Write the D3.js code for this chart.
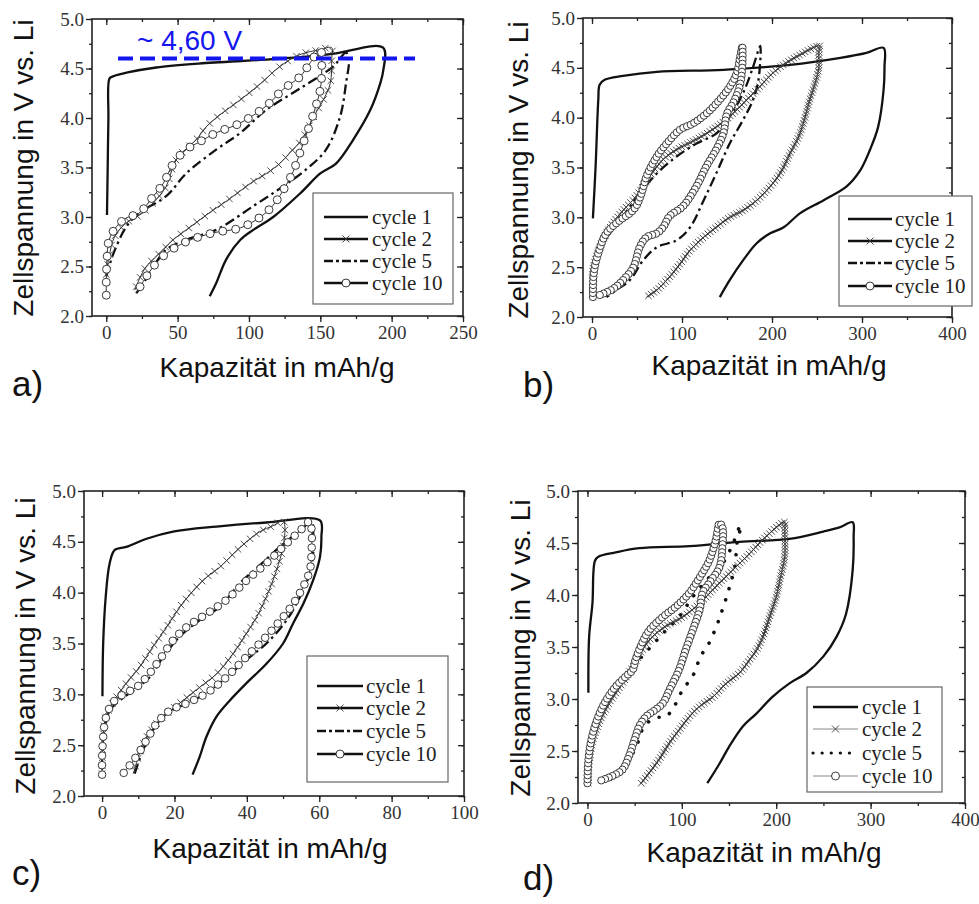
<!DOCTYPE html>
<html>
<head>
<meta charset="utf-8">
<script src="https://cdn.jsdelivr.net/npm/d3@7"></script>
<style>
  body { margin: 0; background: #fff; }
  svg { display: block; }
</style>
</head>
<body>
<script>
// ---------- data (Kapazität mAh/g, Spannung V) ----------
const legendLabels = ["cycle 1", "cycle 2", "cycle 5", "cycle 10"];
const panelLetters = ["a)", "b)", "c)", "d)"];
const yTicks = [2.0, 2.5, 3.0, 3.5, 4.0, 4.5, 5.0];
const xTicksA = [0, 50, 100, 150, 200, 250];
const xTicksB = [0, 100, 200, 300, 400];
const xTicksC = [0, 20, 40, 60, 80, 100];
const xTicksD = [0, 100, 200, 300, 400];
const markLevel = [4.6];
const markLabel = "~ 4,60 V";

const a1 = [[0.5,3.02],[1,3.5],[1.5,4.0],[2.3,4.40],[4.7,4.42],[15,4.46],[35,4.51],[65,4.55],[112,4.59],[140,4.62],[160,4.65],[194,4.71],
  [194,4.47],[192,4.35],[185,4.08],[173,3.78],[161,3.54],[150,3.44],[136,3.24],[117,3.0],[103,2.87],[94,2.77],[84,2.57],[77,2.33],[72.5,2.2]];
const a2 = [[0,2.42],[2,2.6],[5.8,2.8],[14,2.94],[23.4,3.02],[32.7,3.14],[42,3.31],[49,3.58],[63,3.78],[70,3.91],[79.5,4.03],[93.6,4.18],[107.6,4.34],[121.6,4.52],[135.7,4.64],[149.7,4.69],[158,4.71],
  [158,4.6],[157,4.35],[152,4.18],[146,4.03],[137,3.78],[128.7,3.65],[121.6,3.54],[112.3,3.44],[103,3.36],[93.6,3.26],[84.2,3.16],[74.9,3.07],[65.5,2.97],[56.1,2.87],[46.8,2.77],[39.8,2.67],[32.7,2.57],[28,2.5],[23.4,2.38],[20,2.26]];
const a5 = [[0,2.4],[5,2.63],[14,2.9],[23,3.04],[42,3.21],[56,3.44],[77,3.68],[94,3.85],[112,4.08],[136,4.3],[159,4.52],[168,4.66],
  [170,4.59],[168,4.35],[164,4.02],[154,3.68],[140,3.48],[124,3.31],[103,3.11],[77,2.87],[56,2.77],[42,2.67],[33,2.5],[26,2.33],[21,2.23]];
const a10 = [[0,2.21],[0,2.35],[0.5,2.57],[2,2.77],[7,2.9],[14,2.99],[23,3.04],[33,3.21],[40,3.34],[47,3.54],[56,3.68],[65.5,3.76],[77,3.85],[94,3.95],[112,4.12],[124,4.29],[136,4.42],[143,4.56],[150,4.69],
  [151,4.49],[150,4.29],[146,4.08],[136,3.66],[131,3.46],[126,3.32],[117,3.12],[108,3.0],[94,2.89],[75,2.84],[56,2.75],[42,2.63],[33,2.5],[26,2.35],[21,2.23]];

const b1 = [[1,2.99],[4,3.51],[7,4.18],[8.5,4.33],[14,4.38],[34.5,4.42],[72,4.46],[146,4.48],[220,4.53],[276,4.6],[305,4.65],[324,4.7],
  [325,4.51],[324,4.28],[318,3.91],[309,3.68],[298,3.47],[283,3.31],[257,3.17],[231,3.04],[213,2.9],[198,2.84],[183,2.74],[168,2.57],[153,2.37],[142,2.2]];
const b2 = [[1,2.2],[1,2.47],[8.5,2.7],[20,2.9],[34.5,3.07],[49,3.21],[64,3.41],[79,3.58],[94,3.68],[109,3.75],[127,3.84],[146,3.96],[161,4.08],[183,4.28],[205,4.48],[227,4.61],[253,4.72],
  [252,4.66],[252,4.5],[248,4.35],[242,4.18],[231,3.84],[220,3.64],[209,3.44],[198,3.31],[183,3.17],[168,3.07],[153,3.0],[138,2.9],[124,2.8],[109,2.67],[97.6,2.53],[86,2.4],[72,2.27],[60.5,2.2]];
const b5 = [[1,2.25],[3,2.5],[10,2.7],[20,2.84],[34.5,3.01],[53,3.24],[72,3.44],[94,3.61],[116,3.74],[138,3.84],[153,4.01],[168,4.25],[179,4.51],[185,4.68],
  [187,4.72],[185,4.38],[179,4.18],[168,3.98],[153,3.74],[138,3.44],[124,3.17],[109,2.9],[94,2.77],[72,2.7],[57,2.57],[42,2.37],[27,2.27],[16,2.2]];
const b10 = [[1,2.2],[2,2.44],[7,2.64],[16,2.84],[31,2.97],[42,3.04],[49,3.11],[55,3.24],[60.5,3.41],[72,3.61],[83,3.74],[98,3.88],[112,3.94],[127,4.04],[142,4.18],[153,4.31],[161,4.45],[164,4.58],[166,4.68],
  [167,4.72],[167,4.51],[164,4.31],[157,4.15],[150,4.04],[146,3.84],[138,3.68],[127,3.51],[116,3.31],[101,3.11],[86,3.01],[79,2.9],[72,2.84],[60.5,2.8],[53,2.7],[46,2.5],[34.5,2.37],[23,2.28],[8.5,2.22]];

const c1 = [[0.1,2.98],[0.3,3.5],[1,3.96],[2.1,4.29],[3.5,4.42],[6.7,4.45],[12.3,4.53],[19.6,4.6],[31.6,4.65],[45.4,4.69],[60.2,4.71],
  [60.6,4.55],[60.2,4.35],[58.3,4.12],[55.6,3.89],[52.8,3.7],[50,3.5],[45.4,3.3],[39.9,3.11],[35.3,2.94],[31.6,2.78],[28.8,2.58],[27,2.39],[25,2.21]];
const c2 = [[0,2.22],[0.2,2.5],[0.8,2.75],[3,2.92],[6.7,3.11],[10.4,3.27],[14.1,3.47],[17.8,3.66],[21.5,3.86],[25.2,4.02],[28.8,4.15],[32.5,4.25],[36.2,4.38],[39.9,4.5],[43.6,4.6],[47.3,4.66],[50,4.71],
  [50.5,4.65],[50,4.45],[48.2,4.22],[45.4,3.96],[42.7,3.76],[39.9,3.6],[36.2,3.4],[31.6,3.2],[27,3.07],[22.4,2.94],[17.8,2.81],[15,2.71],[12.3,2.58],[10.4,2.42],[8.6,2.22]];
const c5 = [[0,2.26],[0.3,2.58],[2.1,2.84],[4.9,2.94],[9.5,3.06],[13.2,3.17],[16.9,3.37],[21.5,3.57],[27,3.73],[32.5,3.86],[38,4.09],[43.6,4.27],[49.1,4.45],[54.7,4.61],[57.9,4.7],
  [58.3,4.61],[58.3,4.38],[57.4,4.19],[54.7,3.96],[51,3.73],[45.4,3.5],[39.9,3.34],[34.4,3.17],[28.8,3.01],[23.3,2.91],[17.8,2.81],[14.1,2.65],[11.3,2.45],[9,2.22]];
const c10 = [[0,2.21],[0,2.39],[0.3,2.58],[0.7,2.71],[1.7,2.84],[3.5,2.94],[5.8,3.0],[9.5,3.07],[12.3,3.17],[15.9,3.34],[19.6,3.53],[23.3,3.66],[28.8,3.79],[34.4,3.93],[39.9,4.12],[45.4,4.29],[50,4.45],[54.7,4.61],[57.4,4.7],
  [57.9,4.61],[57.9,4.42],[57.4,4.22],[55.6,4.06],[52.8,3.89],[50,3.76],[45.4,3.57],[39.9,3.37],[34.4,3.17],[28.8,3.01],[23.3,2.91],[18.7,2.84],[15,2.71],[12.3,2.55],[9.5,2.39],[5.8,2.22]];

const d1 = [[1,3.06],[1.8,3.6],[5.3,3.92],[8,4.33],[12,4.37],[30,4.41],[55,4.45],[108,4.47],[161,4.51],[214,4.54],[250,4.61],[267,4.65],[281,4.7],
  [282,4.56],[281,4.24],[274,3.82],[264,3.6],[250,3.41],[232,3.25],[214,3.15],[196,3.02],[179,2.86],[165,2.74],[150,2.54],[140,2.38],[127,2.19]];
const d2 = [[1,2.19],[1.8,2.38],[5.3,2.58],[12.4,2.77],[23,2.96],[37,3.15],[48,3.31],[58,3.47],[69,3.6],[83,3.7],[101,3.79],[119,3.92],[136,4.08],[154,4.24],[172,4.4],[189,4.56],[209,4.7],
  [209,4.62],[209,4.37],[204,4.15],[200,3.98],[193,3.79],[186,3.6],[179,3.47],[172,3.38],[161,3.25],[147,3.15],[133,3.02],[119,2.93],[108,2.83],[97,2.7],[87,2.58],[76,2.42],[65.5,2.29],[57,2.19]];
const d5 = [[1,2.32],[5,2.64],[16,2.9],[30,3.12],[48,3.31],[64,3.47],[80,3.63],[97,3.79],[111.5,3.98],[126,4.14],[143,4.3],[154,4.49],[161,4.65],
  [163,4.67],[159,4.53],[156,4.27],[150,4.06],[143,3.86],[138,3.73],[129,3.54],[120,3.41],[111.5,3.22],[101,3.09],[92,2.93],[83,2.83],[72.6,2.82],[60,2.74],[55,2.62],[50,2.51],[42.5,2.4],[33.6,2.29],[21,2.21]];
const d10 = [[0,2.19],[0.7,2.38],[3.5,2.58],[9,2.77],[18,2.96],[30,3.12],[41,3.22],[48,3.28],[51,3.38],[58,3.54],[65.5,3.66],[80,3.79],[94,3.89],[108,4.02],[119,4.17],[129,4.33],[136,4.53],[140,4.69],
  [143,4.65],[143,4.46],[140,4.27],[131,4.14],[122,4.02],[119,3.86],[111.5,3.66],[104,3.47],[97,3.28],[87,3.09],[80,2.96],[72.6,2.9],[62,2.83],[55,2.74],[51,2.64],[44,2.45],[37,2.32],[26.5,2.26],[12.4,2.21]];

// ---------- layout ----------
const W = 979, H = 904;
const serif = "'Liberation Serif', 'Times New Roman', serif";
const sans = "'Liberation Sans', Arial, sans-serif";

const panels = [
  { frame: {l: 92, r: 463, t: 19, b: 316}, xDomain: [-10, 250], xTicks: xTicksA, xMinor: 25,
    curves: [a1, a2, a5, a10], stepX: 10, stepO: 13, rO: 4,
    legend: {x0: 313, y0: 193, x1: 453, y1: 304, rows: [217, 239, 261, 283], s0: 324, s1: 368, tx: 372},
    letter: [12, 396], xTitle: [277, 377], yTitle: [33, 168], gray: false },
  { frame: {l: 583, r: 952, t: 18, b: 317}, xDomain: [-10, 400], xTicks: xTicksB, xMinor: 50,
    curves: [b1, b2, b5, b10], stepX: 3.2, stepO: 4, rO: 3.6,
    legend: {x0: 839, y0: 196, x1: 972, y1: 306, rows: [219, 241, 263, 286], s0: 848, s1: 892, tx: 895},
    letter: [523, 397], xTitle: [769, 375], yTitle: [528, 170], gray: false },
  { frame: {l: 84, r: 464, t: 491, b: 796}, xDomain: [-5, 100], xTicks: xTicksC, xMinor: 10,
    curves: [c1, c2, c5, c10], stepX: 8, stepO: 9.5, rO: 3.8,
    legend: {x0: 307, y0: 656, x1: 448, y1: 782, rows: [686, 708, 731, 754], s0: 317, s1: 363, tx: 366},
    letter: [12, 885], xTitle: [270, 858], yTitle: [35, 646], gray: false },
  { frame: {l: 578, r: 965, t: 491, b: 803}, xDomain: [-10, 400], xTicks: xTicksD, xMinor: 50,
    curves: [d1, d2, d5, d10], stepX: 3.2, stepO: 4, rO: 3.6,
    legend: {x0: 807, y0: 687, x1: 942, y1: 792, rows: [707, 729, 753, 776], s0: 813, s1: 858, tx: 862},
    letter: [523, 890], xTitle: [764, 862], yTitle: [530, 648], gray: true }
];

const svg = d3.select("body").append("svg")
  .attr("width", W).attr("height", H)
  .attr("viewBox", `0 0 ${W} ${H}`);

function drawX(g, x, y, s) {
  g.append("path")
    .attr("d", `M${x - s},${y - s}L${x + s},${y + s}M${x - s},${y + s}L${x + s},${y - s}`)
    .attr("stroke", "#3a3a3a").attr("stroke-width", 0.9).attr("fill", "none");
}
function drawO(g, x, y, r) {
  g.append("circle").attr("cx", x).attr("cy", y).attr("r", r)
    .attr("fill", "#fff").attr("stroke", "#3a3a3a").attr("stroke-width", 1);
}
function markersAlong(g, node, step, fn) {
  const len = node.getTotalLength();
  for (let s = 0; s <= len; s += step) {
    const p = node.getPointAtLength(s);
    fn(g, p.x, p.y);
  }
}

panels.forEach((p, i) => {
  const f = p.frame;
  const x = d3.scaleLinear().domain(p.xDomain).range([f.l, f.r]);
  const y = d3.scaleLinear().domain([2, 5]).range([f.b, f.t]);
  const g = svg.append("g");

  // axes
  const minorX = d3.range(p.xTicks[0], p.xTicks[p.xTicks.length - 1] + 0.001, p.xMinor);
  const minorY = d3.range(2, 5.001, 0.25);
  const axes = [
    [d3.axisBottom(x).tickValues(p.xTicks).tickSize(6).tickPadding(4).tickFormat(d3.format("d")), `translate(0,${f.b})`, true],
    [d3.axisBottom(x).tickValues(minorX).tickSize(3).tickFormat(""), `translate(0,${f.b})`, false],
    [d3.axisTop(x).tickValues(p.xTicks).tickSize(-6).tickFormat(""), `translate(0,${f.t})`, false],
    [d3.axisTop(x).tickValues(minorX).tickSize(-3).tickFormat(""), `translate(0,${f.t})`, false],
    [d3.axisLeft(y).tickValues(yTicks).tickSize(6).tickPadding(2).tickFormat(d3.format(".1f")), `translate(${f.l},0)`, true],
    [d3.axisLeft(y).tickValues(minorY).tickSize(3).tickFormat(""), `translate(${f.l},0)`, false],
    [d3.axisRight(y).tickValues(yTicks).tickSize(-6).tickFormat(""), `translate(${f.r},0)`, false],
    [d3.axisRight(y).tickValues(minorY).tickSize(-3).tickFormat(""), `translate(${f.r},0)`, false]
  ];
  axes.forEach(([ax, tr, labels]) => {
    const a = g.append("g").attr("transform", tr).call(ax);
    a.select(".domain").remove();
    a.selectAll("line").attr("stroke", "#222").attr("stroke-width", 1.3);
    if (labels) a.selectAll("text").attr("font-family", serif).attr("font-size", 19).attr("fill", "#333");
  });
  g.append("rect").attr("x", f.l).attr("y", f.t).attr("width", f.r - f.l).attr("height", f.b - f.t)
    .attr("fill", "none").attr("stroke", "#222").attr("stroke-width", 1.6);

  // curves
  const line = d3.line().x(d => x(d[0])).y(d => y(d[1])).curve(d3.curveCatmullRom.alpha(0.5));
  const [cy1, cy2, cy5, cy10] = p.curves;
  g.append("path").datum(cy1).attr("d", line).attr("fill", "none")
    .attr("stroke", "#111").attr("stroke-width", 2.3);
  if (p.gray) {
    g.append("path").datum(cy5).attr("d", line).attr("fill", "none")
      .attr("stroke", "#111").attr("stroke-width", 3.6).attr("stroke-linecap", "round")
      .attr("stroke-dasharray", "0.1,11.5");
  } else {
    g.append("path").datum(cy5).attr("d", line).attr("fill", "none")
      .attr("stroke", "#111").attr("stroke-width", 2.3).attr("stroke-dasharray", "10,4,2.5,4");
  }
  const p2 = g.append("path").datum(cy2).attr("d", line).attr("fill", "none")
    .attr("stroke", "#333").attr("stroke-width", 1);
  markersAlong(g, p2.node(), p.stepX, (gg, px, py) => drawX(gg, px, py, 3.2));
  const p10 = g.append("path").datum(cy10).attr("d", line).attr("fill", "none")
    .attr("stroke", "#333").attr("stroke-width", 1);
  markersAlong(g, p10.node(), p.stepO, (gg, px, py) => drawO(gg, px, py, p.rO));

  // legend
  const L = p.legend;
  const lg = g.append("g");
  lg.append("rect").attr("x", L.x0).attr("y", L.y0).attr("width", L.x1 - L.x0).attr("height", L.y1 - L.y0)
    .attr("fill", "#fff").attr("stroke", "#666").attr("stroke-width", 1.2);
  legendLabels.forEach((lab, k) => {
    const ry = L.rows[k];
    const thin = p.gray && (k === 1 || k === 3);
    const seg = lg.append("line").attr("x1", L.s0).attr("x2", L.s1).attr("y1", ry).attr("y2", ry)
      .attr("stroke", thin ? "#888" : "#111").attr("stroke-width", thin ? 1 : 2.5);
    if (k === 2) {
      if (p.gray) seg.attr("stroke-width", 3.2).attr("stroke-linecap", "round").attr("stroke-dasharray", "0.1,9");
      else seg.attr("stroke-dasharray", "9,3,3,3");
    }
    const mx = (L.s0 + L.s1) / 2;
    if (k === 1) drawX(lg, mx, ry, 3.5);
    if (k === 3) drawO(lg, mx, ry, 4);
    lg.append("text").attr("x", L.tx).attr("y", ry + 7).text(lab)
      .attr("font-family", serif).attr("font-size", 21).attr("fill", "#222");
  });

  // titles
  svg.append("text").attr("x", p.xTitle[0]).attr("y", p.xTitle[1]).attr("text-anchor", "middle")
    .attr("font-family", sans).attr("font-size", 28).attr("fill", "#111").text("Kapazität in mAh/g");
  svg.append("text").attr("transform", `translate(${p.yTitle[0]},${p.yTitle[1]}) rotate(-90)`)
    .attr("text-anchor", "middle").attr("font-family", sans).attr("font-size", 28).attr("fill", "#111")
    .text("Zellspannung in V vs. Li");
  svg.append("text").attr("x", p.letter[0]).attr("y", p.letter[1])
    .attr("font-family", sans).attr("font-size", 35).attr("fill", "#111").text(panelLetters[i]);

  // 4,60 V marker in panel a
  if (i === 0) {
    g.append("line").attr("x1", 118).attr("x2", 415).attr("y1", y(markLevel[0])).attr("y2", y(markLevel[0]))
      .attr("stroke", "#1515f0").attr("stroke-width", 4).attr("stroke-dasharray", "15,7");
    g.append("text").attr("x", 137).attr("y", 50).text(markLabel)
      .attr("font-family", sans).attr("font-size", 28).attr("fill", "#1515f0");
  }
});
</script>
</body>
</html>
